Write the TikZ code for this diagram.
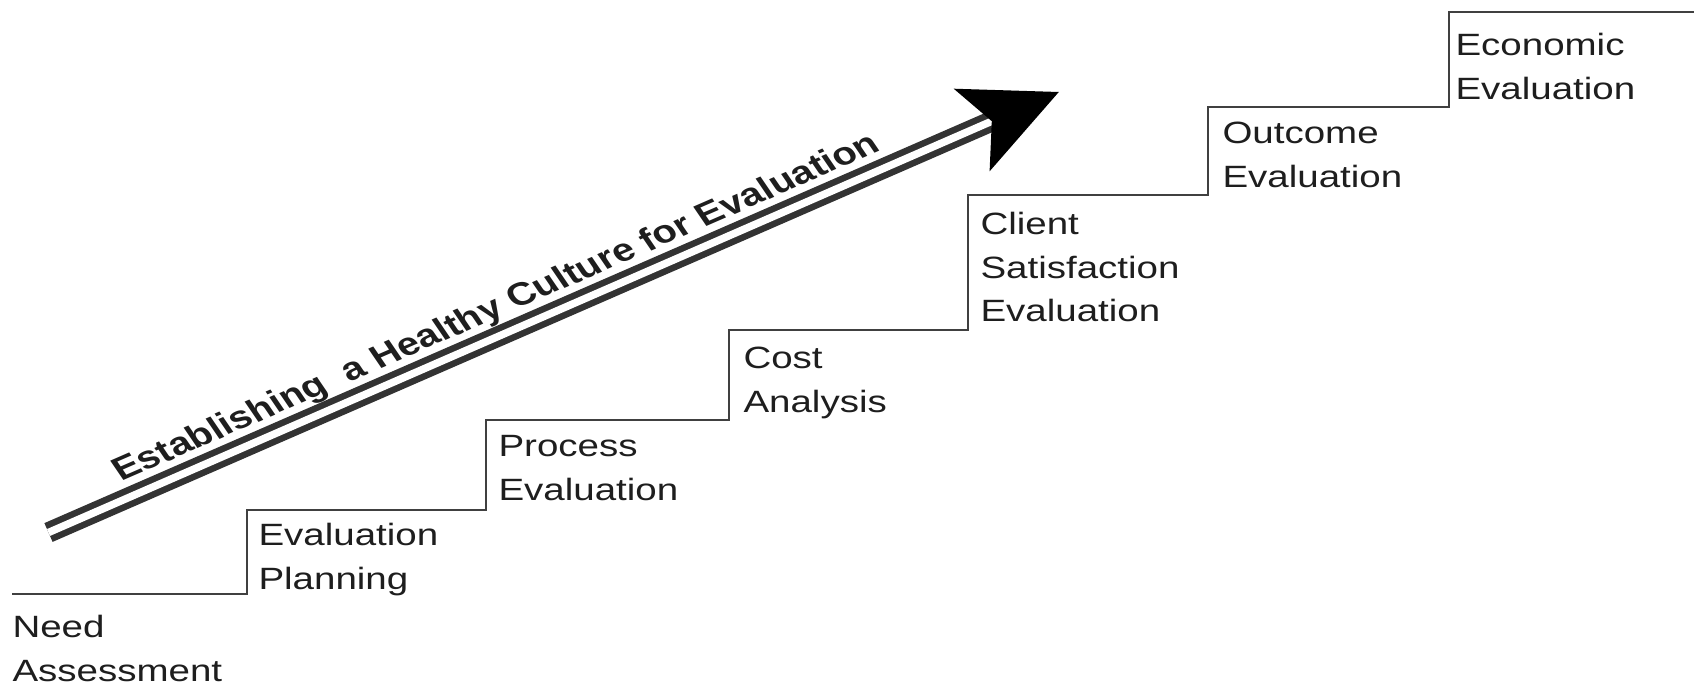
\documentclass[tikz,border=0pt]{standalone}
\usepackage{fontspec}
\setmainfont{Liberation Sans}
\usepackage{tikz}
\usetikzlibrary{positioning}
\definecolor{inkgray}{HTML}{404040}
\definecolor{inktext}{HTML}{1E1E1E}
\tikzstyle{stair} = [draw=inkgray,line width=1.3pt]
\tikzstyle{steptext} = [inner sep=0pt,align=left,text=inktext,xscale=1.25,font=\fontsize{15.4}{21.8}\selectfont]
\tikzstyle{shaft} = [draw=inkgray!80!black,line width=3.25pt,double=white,double distance=3.75pt]
\tikzstyle{banner} = [inner sep=0pt,anchor=base west,text=inktext,xscale=1.25,rotate=28.6,font=\fontsize{16}{19}\selectfont\bfseries]

\begin{document}
\begin{tikzpicture}[x=0.5pt,y=-0.5pt]
\useasboundingbox (0,0) rectangle (1694,685);

%Corners
\coordinate (s0) at (12,594);
\coordinate (k1) at (247,510);
\coordinate (k2) at (486,420);
\coordinate (k3) at (729,330);
\coordinate (k4) at (968,195);
\coordinate (k5) at (1208,107);
\coordinate (k6) at (1449,12);
\coordinate (s7) at (1694,12);

%Stairs
\draw[stair] (s0) -| (k1) -| (k2) -| (k3) -| (k4) -| (k5) -| (k6) -- (s7);

%Nodes
\node[steptext,below right=10.5pt and 0pt of s0] (need) {Need\\Assessment};
\node[steptext,below right=6.5pt and 5.5pt of k1] (plan) {Evaluation\\Planning};
\node[steptext,below right=7.5pt and 6pt of k2] (process) {Process\\Evaluation};
\node[steptext,below right=8.5pt and 7pt of k3] (cost) {Cost\\Analysis};
\node[steptext,below right=8.5pt and 6pt of k4] (client) {Client\\Satisfaction\\Evaluation};
\node[steptext,below right=7.5pt and 7pt of k5] (outcome) {Outcome\\Evaluation};
\node[steptext,below right=10.5pt and 3pt of k6] (economic) {Economic\\Evaluation};

%Arrow
\coordinate (tail) at (48.5,532.5);
\coordinate (notch) at (991.8,121.2);
\coordinate (tip) at (1058.8,92);
\coordinate (barbup) at (953.7,88.7);
\coordinate (barbdown) at (989.6,171.3);
\draw[shaft] (tail) -- (notch);
\fill[black] (notch) -- (barbup) -- (tip) -- (barbdown) -- cycle;
\node[banner] (culture) at (121,482) {Establishing\ \ a Healthy Culture for Evaluation};
\end{tikzpicture}
\end{document}
